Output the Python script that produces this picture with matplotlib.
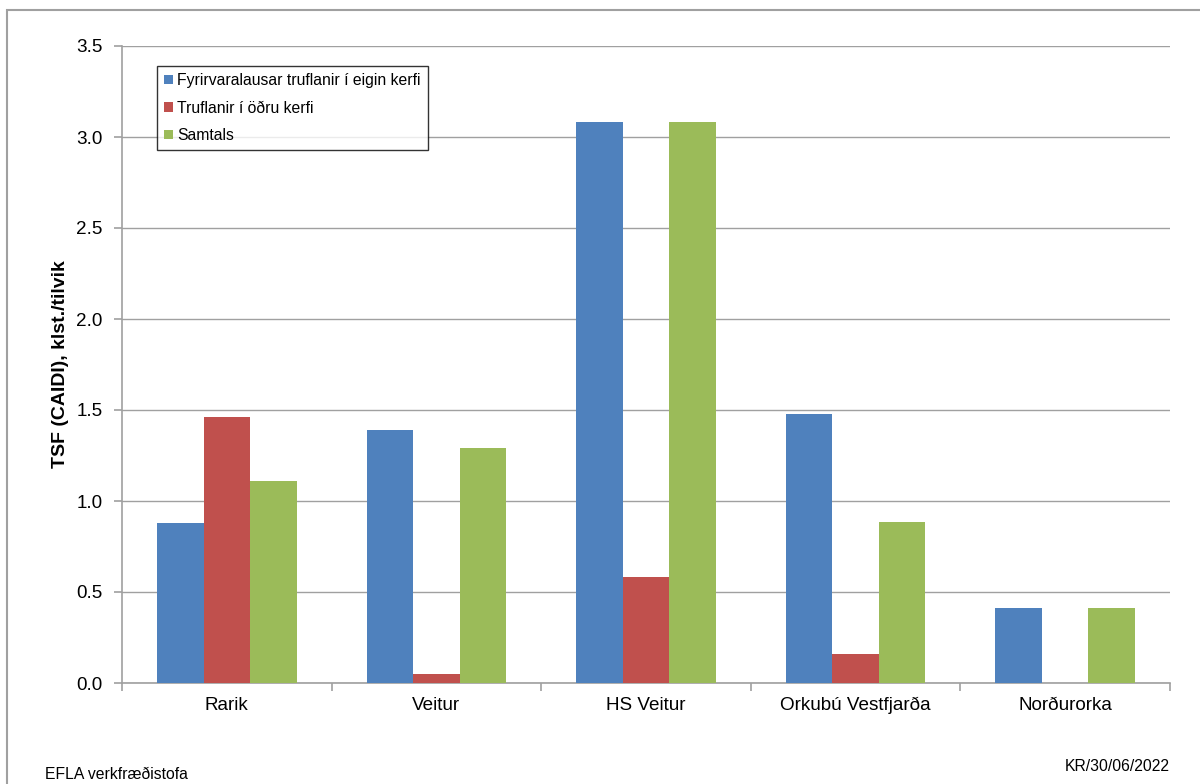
import matplotlib
matplotlib.use("Agg")
import matplotlib.pyplot as plt
import numpy as np
from matplotlib.patches import Rectangle

categories = ["Rarik", "Veitur", "HS Veitur", "Orkubú Vestfjarða", "Norðurorka"]
eigin = [0.88, 1.39, 3.08, 1.48, 0.41]
odru = [1.46, 0.05, 0.58, 0.16, 0.0]
samtals = [1.11, 1.29, 3.08, 0.885, 0.41]
series_names = ["Fyrirvaralausar truflanir í eigin kerfi", "Truflanir í öðru kerfi", "Samtals"]
colors = ["#4F81BD", "#C0504D", "#9BBB59"]

plt.rcParams['font.family'] = ['Liberation Sans', 'DejaVu Sans']

fig = plt.figure(figsize=(12, 7.84), dpi=100)
ax = fig.add_axes([122/1200, 1-683/784, (1170-122)/1200, (683-46)/784])

x = np.arange(len(categories))
w = 0.222
for i, (vals, name, c) in enumerate(zip([eigin, odru, samtals], series_names, colors)):
    ax.bar(x + (i-1)*w, vals, width=w, color=c, label=name, zorder=3)

ax.set_xlim(-0.5, len(categories)-0.5)
ax.set_ylim(0, 3.5)
ax.set_yticks(np.arange(0, 3.51, 0.5))
ax.set_yticklabels([f"{v:.1f}" for v in np.arange(0, 3.51, 0.5)])
ax.set_xticks(x)
ax.set_xticklabels(categories)
ax.set_xticks(np.arange(-0.5, len(categories), 1), minor=True)
ax.tick_params(axis='x', which='major', length=0, labelsize=13.6, pad=10)
ax.tick_params(axis='x', which='minor', length=6, color='#a0a0a0', width=1.2)
ax.tick_params(axis='y', length=6, color='#a0a0a0', width=1.2, labelsize=13.6, pad=8)
ax.grid(axis='y', color='#a0a0a0', linewidth=1.0, zorder=0)
for s in ['top', 'right']:
    ax.spines[s].set_visible(False)
for s in ['left', 'bottom']:
    ax.spines[s].set_color('#a0a0a0')
    ax.spines[s].set_linewidth(1.2)
ax.set_ylabel("TSF (CAIDI), klst./tilvik", fontsize=14, fontweight='bold', labelpad=5)

leg = ax.legend(loc='upper left', bbox_to_anchor=((157-122)/1048, 1-(66-46)/637),
                frameon=True, fancybox=False, fontsize=11.3, handlelength=0.55, handleheight=0.55,
                handletextpad=0.3, borderpad=0.45, labelspacing=0.8, borderaxespad=0)
leg.get_frame().set_edgecolor('black')
leg.get_frame().set_linewidth(1.0)

fig.patches.append(Rectangle((7/1200, -0.1), 1.2, 1.1 - 10/784, transform=fig.transFigure,
                             fill=False, edgecolor='#a0a0a0', linewidth=1.5))
fig.text(45/1200, 1-782/784, "EFLA verkfræðistofa", fontsize=11.3, ha='left', va='bottom')
fig.text(1170/1200, 1-774/784, "KR/30/06/2022", fontsize=11.3, ha='right', va='bottom')

fig.savefig("out.png", dpi=100)
